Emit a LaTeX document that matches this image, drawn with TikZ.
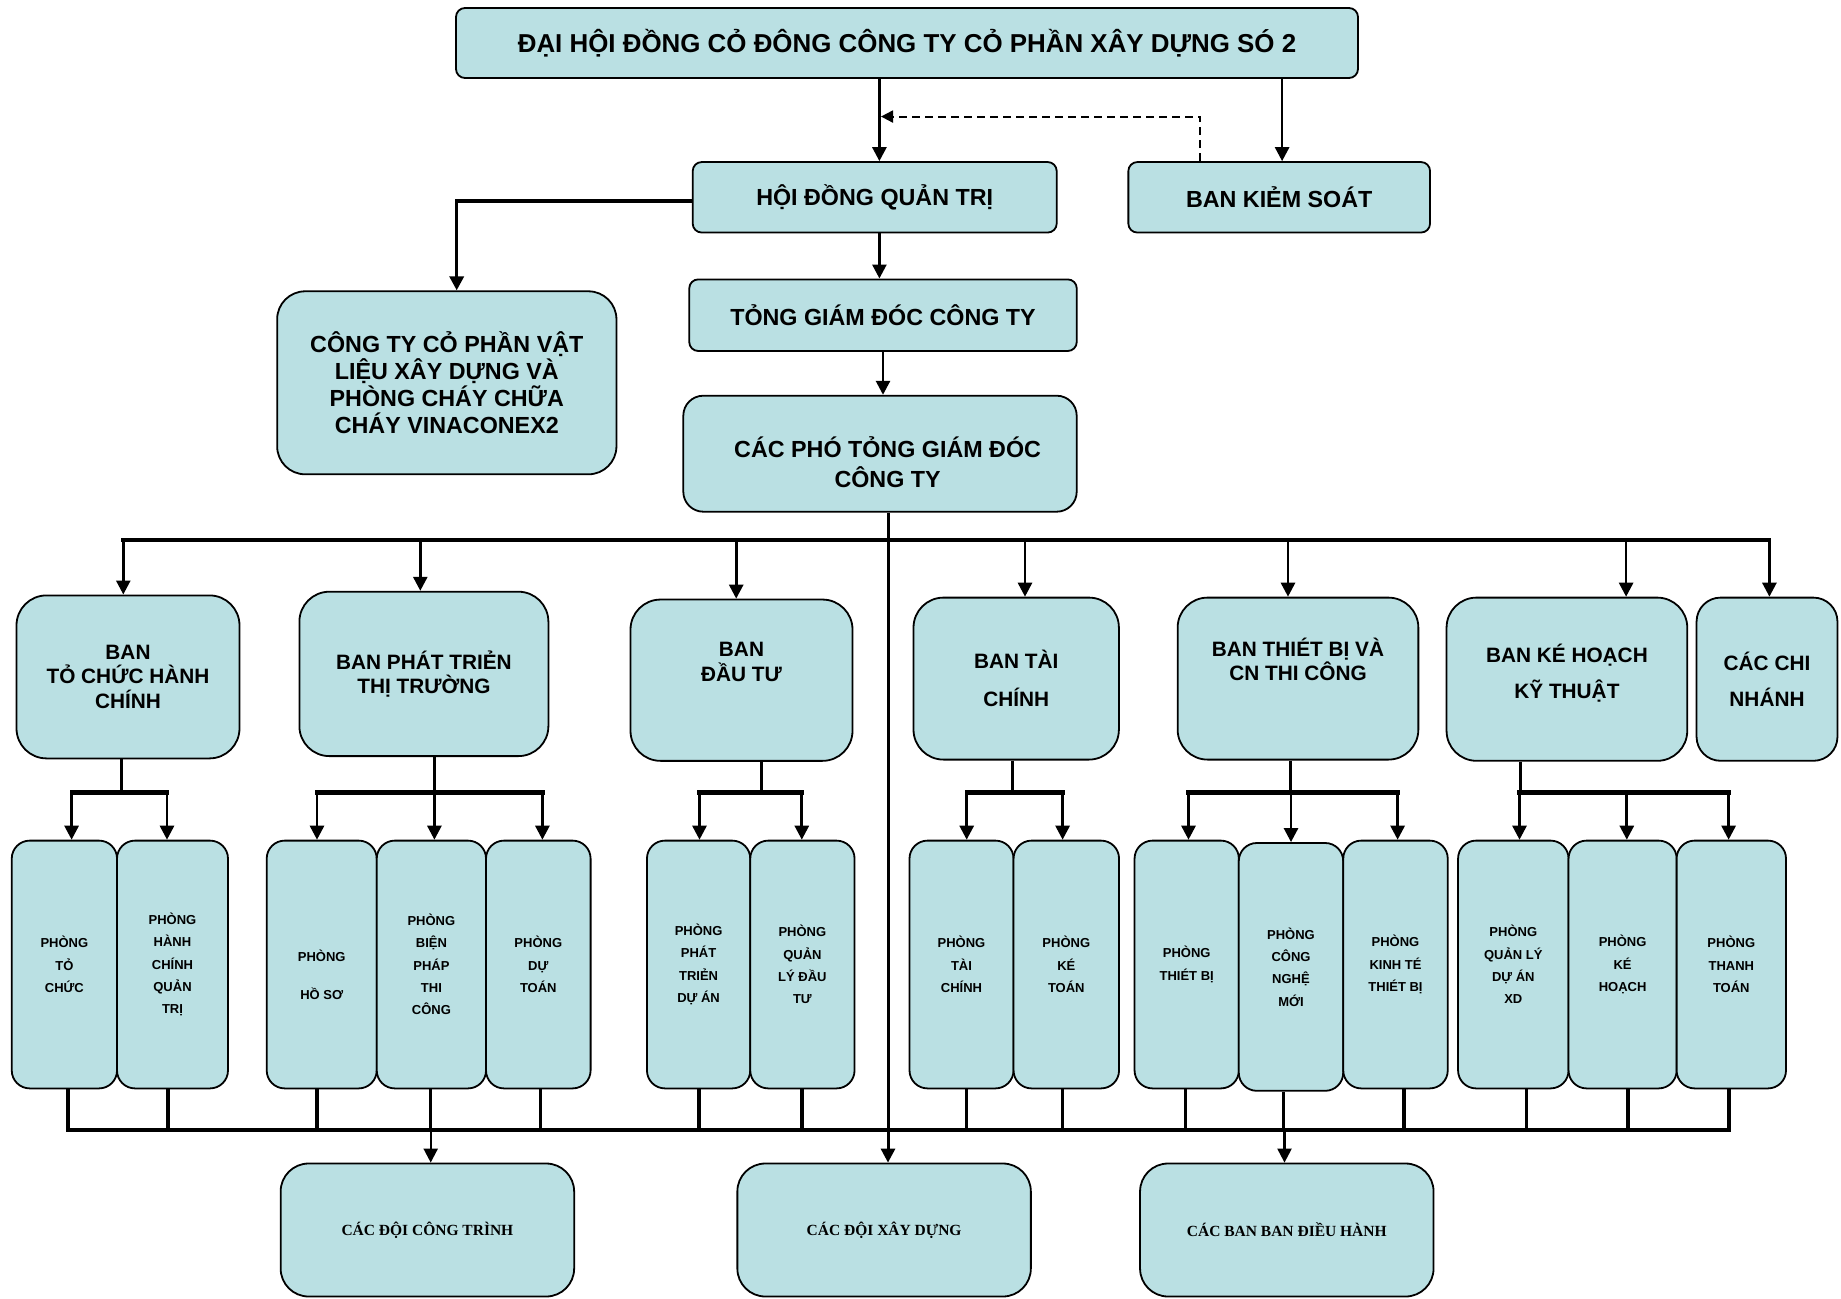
\documentclass[tikz,border=0pt]{standalone}
\usepackage{fontspec}
\setmainfont{Liberation Sans}
\newfontfamily\serifb{Liberation Serif}
\usetikzlibrary{arrows.meta,calc}
\definecolor{boxfill}{RGB}{186,224,227}
\tikzset{
 box/.style={draw=black, line width=1.8pt, fill=boxfill, inner sep=0pt, align=center},
 topbox/.style={box, rounded corners=9pt, font=\fontsize{23.3}{27}\selectfont\bfseries},
 bigbox/.style={box, rounded corners=28pt, font=\fontsize{23.3}{27}\selectfont\bfseries},
 banbox/.style={box, rounded corners=30pt, font=\fontsize{20.8}{24.7}\selectfont\bfseries},
 bantext/.style={inner sep=0pt, align=center, font=\fontsize{20.8}{24.7}\selectfont\bfseries},
 roombox/.style={box, rounded corners=18pt, minimum height=247.8pt, font=\fontsize{13}{22.3}\selectfont\bfseries},
 lowbox/.style={box, rounded corners=28pt, minimum height=133pt, minimum width=293.5pt, font=\serifb\fontsize{15.5}{18}\selectfont\bfseries},
 conn/.style={line width=3pt},
 stub/.style={line width=3.6pt},
 bar/.style={line width=4.2pt, line cap=rect},
 bus/.style={line width=4pt, line cap=rect},
 arr/.style={line width=2.7pt, -{Triangle[length=14pt,width=14pt]}},
 dsh/.style={line width=2pt, dash pattern=on 8pt off 5pt, -{Triangle[length=12pt,width=12pt]}},
}
\begin{document}
\begin{tikzpicture}[x=1pt,y=-1pt]
\useasboundingbox (0,0) rectangle (1841,1298);
\fill[white] (0,0) rectangle (1841,1298);

% ---------- upper boxes
\node[topbox, font=\fontsize{25.9}{30}\selectfont\bfseries, minimum width=902pt, minimum height=70pt] (T) at (907,43) {ĐẠI HỘI ĐỒNG CỎ ĐÔNG CÔNG TY CỎ PHẦN XÂY DỰNG SÓ 2};
\node[topbox, minimum width=364pt, minimum height=70.5pt] (HD) at (874.7,197.3) {HỘI ĐỒNG QUẢN TRỊ};
\node[topbox, minimum width=301.7pt, minimum height=70.5pt] (KS) at (1279.2,197.3) {BAN KIẺM SOÁT};
\node[bigbox, minimum width=339.3pt, minimum height=183pt] (CT) at (446.8,382.8) {CÔNG TY CỎ PHẦN VẬT\\LIỆU XÂY DỰNG VÀ\\PHÒNG CHÁY CHỮA\\CHÁY VINACONEX2};
\node[topbox, minimum width=387.5pt, minimum height=71.6pt] (TG) at (883,315.2) {TỎNG GIÁM ĐÓC CÔNG TY};
\node[box, rounded corners=20pt, minimum width=393.4pt, minimum height=116pt] (PT) at (880,453.7) {};
\node[inner sep=0pt, align=center, font=\fontsize{23.3}{29.4}\selectfont\bfseries] (PTt) at ($(PT)+(7.6,8.3)$) {CÁC PHÓ TỎNG GIÁM ĐÓC\\CÔNG TY};

% ---------- ban boxes
\node[banbox, minimum width=223pt, minimum height=163pt] (B1) at (128,676.9) {BAN\\TỎ CHỨC HÀNH\\CHÍNH};
\node[banbox, minimum width=249pt, minimum height=164.4pt] (B2) at (423.9,673.9) {BAN PHÁT TRIẺN\\THỊ TRƯỜNG};
\node[banbox, minimum width=222pt, minimum height=161.3pt] (B3) at (741.5,680.2) {};
\node[bantext] (B3t) at ($(B3)+(0,-18.6)$) {BAN\\ĐẦU TƯ};
\node[banbox, minimum width=205.4pt, minimum height=162pt] (B4) at (1016.2,678.6) {BAN TÀI\\[12.9pt]CHÍNH};
\node[banbox, minimum width=240.7pt, minimum height=162pt] (B5) at (1298,678.6) {};
\node[bantext] (B5t) at ($(B5)+(0,-19.3)$) {BAN THIÉT BỊ VÀ\\CN THI CÔNG};
\node[banbox, minimum width=240.7pt, minimum height=163.2pt] (B6) at (1566.9,679.2) {};
\node[bantext] (B6t) at ($(B6)+(0,-6)$) {BAN KÉ HOẠCH\\[11.7pt]KỸ THUẬT};
\node[banbox, rounded corners=24pt, minimum width=140.9pt, minimum height=163.2pt] (B7) at (1767,679.2) {CÁC CHI\\[11.7pt]NHÁNH};

% ---------- room boxes
\node[roombox, minimum width=105.3pt] (P1) at (64.4,964.5) {PHÒNG\\TỎ\\CHỨC};
\node[roombox, minimum width=111pt] (P2) at (172.5,964.5) {PHÒNG\\HÀNH\\CHÍNH\\QUẢN\\TRỊ};
\node[roombox, minimum width=110pt] (P3) at (321.7,964.5) {};
\node[inner sep=0pt, align=center, font=\fontsize{13}{22.3}\selectfont\bfseries] (P3t) at ($(P3)+(0,10)$) {PHÒNG\\[15.3pt]HỒ SƠ};
\node[roombox, minimum width=109.3pt] (P4) at (431.4,964.5) {PHÒNG\\BIỆN\\PHÁP\\THI\\CÔNG};
\node[roombox, minimum width=104.6pt] (P5) at (538.3,964.5) {PHÒNG\\DỰ\\TOÁN};
\node[roombox, minimum width=103.3pt] (P6) at (698.6,964.5) {PHÒNG\\PHÁT\\TRIẺN\\DỰ ÁN};
\node[roombox, minimum width=104.3pt] (P7) at (802.4,964.5) {PHÒNG\\QUẢN\\LÝ ĐẦU\\TƯ};
\node[roombox, minimum width=104pt] (P8) at (961.5,964.5) {PHÒNG\\TÀI\\CHÍNH};
\node[roombox, minimum width=105.5pt] (P9) at (1066.3,964.5) {PHÒNG\\KÉ\\TOÁN};
\node[roombox, minimum width=104.3pt] (P10) at (1186.7,964.5) {PHÒNG\\THIÉT BỊ};
\node[roombox, minimum width=104.4pt] (P11) at (1291,966.9) {PHÒNG\\CÔNG\\NGHỆ\\MỚI};
\node[roombox, minimum width=104.5pt] (P12) at (1395.5,964.5) {PHÒNG\\KINH TÉ\\THIÉT BỊ};
\node[roombox, minimum width=110.5pt] (P13) at (1513.3,964.5) {PHÒNG\\QUẢN LÝ\\DỰ ÁN\\XD};
\node[roombox, minimum width=108.1pt] (P14) at (1622.6,964.5) {PHÒNG\\KÉ\\HOẠCH};
\node[roombox, minimum width=109.4pt] (P15) at (1731.3,964.5) {PHÒNG\\THANH\\TOÁN};

% ---------- lower boxes
\node[lowbox] (D1) at (427.4,1230) {CÁC ĐỘI CÔNG TRÌNH};
\node[lowbox] (D2) at (884.1,1230) {CÁC ĐỘI XÂY DỰNG};
\node[lowbox] (D3) at (1286.8,1230) {CÁC BAN BAN ĐIỀU HÀNH};

% ---------- top connectors
\coordinate (hdin) at ([xshift=4.7pt]HD.north);
\draw[arr] (hdin |- T.south) -- (hdin);
\coordinate (ksin) at ([xshift=2.9pt]KS.north);
\draw[arr] (ksin |- T.south) -- (ksin);
\coordinate (ksout) at ([xshift=-79.2pt]KS.north);
\coordinate (dm) at ($(ksout)+(0,-44.6)$);
\coordinate (dend) at ($(hdin |- dm)+(1.6,0)$);
\draw[dsh] (ksout) -- (dm) -- (dend);
\coordinate (ctin) at ([xshift=9.9pt]CT.north);
\draw[arr, line width=3.4pt] ([yshift=-3.5pt]HD.west) -| (ctin);
\coordinate (tgin) at ([xshift=-3.6pt]TG.north);
\draw[arr] (tgin |- HD.south) -- (tgin);
\coordinate (ptin) at ([xshift=3pt]PT.north);
\draw[arr] (ptin |- TG.south) -- (ptin);

% ---------- main line and ban bus
\coordinate (mx) at ([xshift=8pt]PT.south);
\draw[arr, line width=3pt] (mx) -- (mx |- D2.north);
\coordinate (busT) at ($(mx)+(0,27.3)$);
\foreach \n/\dx in {B1/-4.7pt, B2/-3.6pt, B3/-5.3pt, B4/8.8pt, B5/-10pt, B6/59.2pt, B7/2.4pt}{
  \coordinate (\n-in) at ([xshift=\dx]\n.north);
  \draw[arr] (\n-in |- busT) -- (\n-in);
}
\draw[bus] (B1-in |- busT) -- (B7-in |- busT);

% ---------- ban to rooms
\coordinate (barY) at (0,792.5);
\foreach \n/\dx in {B1/-7pt, B2/10.5pt, B3/19.5pt, B4/-4.2pt, B5/-7.5pt, B6/-46.9pt}{
  \coordinate (\n-out) at ([xshift=\dx]\n.south);
  \draw[conn] (\n-out) -- (\n-out |- barY);
}
\foreach \n/\dx in {P1/7.2pt, P2/-5.5pt, P3/-4.7pt, P4/3pt, P5/4.1pt, P6/0.9pt, P7/-0.6pt, P8/5.2pt, P9/-3.7pt, P10/1.8pt, P11/0pt, P12/2.1pt, P13/6.2pt, P14/4.2pt, P15/-2.7pt}{
  \coordinate (\n-in) at ([xshift=\dx]\n.north);
  \draw[arr] (\n-in |- barY) -- (\n-in);
}
\draw[bar] (P1-in |- barY) -- (P2-in |- barY);
\draw[bar] (P3-in |- barY) -- (P5-in |- barY);
\draw[bar] (P6-in |- barY) -- (P7-in |- barY);
\draw[bar] (P8-in |- barY) -- (P9-in |- barY);
\draw[bar] (P10-in |- barY) -- (P12-in |- barY);
\draw[bar] (P13-in |- barY) -- (P15-in |- barY);

% ---------- rooms to lower bus
\coordinate (busB) at (0,1130);
\foreach \n/\dx in {P1/3.6pt, P2/-4.5pt, P3/-4.7pt, P4/-0.8pt, P5/2.2pt, P6/0.4pt, P7/-0.7pt, P8/5.1pt, P9/-3.7pt, P10/-1.4pt, P11/-7.7pt, P12/8.2pt, P13/13pt, P14/5.4pt, P15/-2.3pt}{
  \coordinate (\n-out) at ([xshift=\dx]\n.south);
  \draw[stub] (\n-out) -- (\n-out |- busB);
}
\draw[bus] (P1-out |- busB) -- (P15-out |- busB);
\coordinate (D1in) at ([xshift=3.3pt]D1.north);
\draw[arr, line width=2.2pt] (D1in |- busB) -- (D1in);
\coordinate (D3in) at ([xshift=-2.3pt]D3.north);
\draw[arr, line width=2.2pt] (D3in |- busB) -- (D3in);
\end{tikzpicture}
\end{document}
